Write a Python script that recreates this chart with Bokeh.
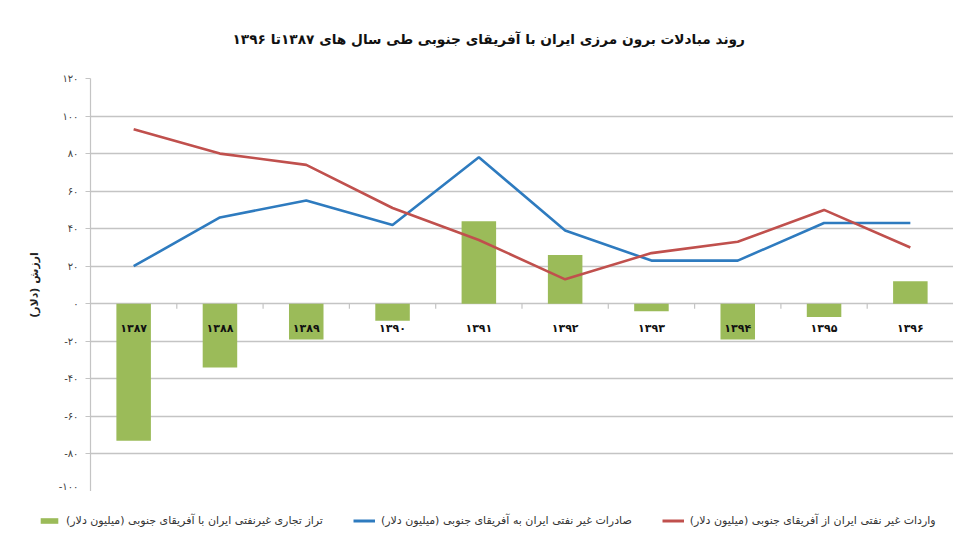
from bokeh.plotting import figure
from bokeh.models import FixedTicker, Legend, LegendItem, ColumnDataSource
from bokeh.layouts import column, row
from bokeh.core.properties import value
from bokeh.embed import file_html
from bokeh.resources import INLINE

# ---- data ----
years = ["۱۳۸۷", "۱۳۸۸", "۱۳۸۹", "۱۳۹۰", "۱۳۹۱", "۱۳۹۲", "۱۳۹۳", "۱۳۹۴", "۱۳۹۵", "۱۳۹۶"]
balance = [-73, -34, -19, -9, 44, 26, -4, -19, -7, 12]
exports = [20, 46, 55, 42, 78, 39, 23, 23, 43, 43]
imports = [93, 80, 74, 51, 34, 13, 27, 33, 50, 30]
y_ticks = [-100, -80, -60, -40, -20, 0, 20, 40, 60, 80, 100, 120]
y_tick_labels = ["-۱۰۰", "-۸۰", "-۶۰", "-۴۰", "-۲۰", "۰", "۲۰", "۴۰", "۶۰", "۸۰", "۱۰۰", "۱۲۰"]

title_text = "روند مبادلات برون مرزی ایران با آفریقای جنوبی طی سال های ۱۳۸۷تا ۱۳۹۶\u200f"
y_label = "ارزش (دلار)\u200f"
name_balance = "تراز تجاری غیرنفتی ایران با آفریقای جنوبی (میلیون دلار)\u200f"
name_exports = "صادرات غیر نفتی ایران به آفریقای جنوبی (میلیون دلار)\u200f"
name_imports = "واردات غیر نفتی ایران از آفریقای جنوبی (میلیون دلار)\u200f"

FONT = "DejaVu Sans"
GREEN = "#9bbb59"
BLUE = "#2e7bbf"
RED = "#c0504d"
GRID = "#c4c4c4"

W = 953
idx = list(range(len(years)))
src = ColumnDataSource(dict(x=idx, balance=balance, exports=exports, imports=imports, year=years))

p = figure(width=W, height=491, output_backend="svg", toolbar_location=None,
           x_range=(-0.5, len(years) - 0.5), y_range=(-100, 120),
           x_axis_location=None,
           min_border_left=90, min_border_right=0, min_border_top=0, min_border_bottom=0)

p.title.text = title_text
p.title.text_font = FONT
p.title.text_font_size = "13.7px"
p.title.text_font_style = "bold"
p.title.align = "left"
p.title.offset = 142
p.title.vertical_align = "top"
p.title.standoff = 60
p.title.text_color = "#111111"

p.outline_line_color = None
p.background_fill_color = "white"

# bars and lines
r_bar = p.vbar(x="x", top="balance", bottom=0, width=0.4, source=src,
               fill_color=GREEN, line_color=None)
r_exp = p.line(x="x", y="exports", source=src, line_color=BLUE, line_width=2.6)
r_imp = p.line(x="x", y="imports", source=src, line_color=RED, line_width=2.6)

# category tick marks on the zero line (between categories)
bx = [i + 0.5 for i in idx[:-1]]
tick_len = 5 * 220 / 419
p.segment(x0=bx, y0=[0] * len(bx), x1=bx, y1=[-tick_len] * len(bx),
          line_color=GRID, line_width=1.2)

# category labels just below the zero line
p.text(x="x", y=0, text="year", source=src, y_offset=25,
       text_align="center", text_baseline="middle",
       text_font=value(FONT), text_font_size="11px", text_font_style="bold",
       text_color="#111111")

# y axis
p.yaxis.ticker = FixedTicker(ticks=y_ticks)
p.yaxis.major_label_overrides = {t: l for t, l in zip(y_ticks, y_tick_labels)}
p.yaxis.major_label_text_font = FONT
p.yaxis.major_label_text_font_size = "10px"
p.yaxis.major_label_text_color = "#404040"
p.yaxis.major_label_standoff = 7
p.yaxis.axis_line_color = GRID
p.yaxis.axis_line_width = 1.2
p.yaxis.major_tick_line_color = GRID
p.yaxis.major_tick_out = 5
p.yaxis.major_tick_in = 0
p.yaxis.minor_tick_line_color = None
p.yaxis.axis_label = y_label
p.yaxis.axis_label_text_font = FONT
p.yaxis.axis_label_text_font_size = "11px"
p.yaxis.axis_label_text_font_style = "bold"
p.yaxis.axis_label_text_color = "#222222"
p.yaxis.axis_label_standoff = 15

p.xgrid.grid_line_color = None
p.ygrid.grid_line_color = GRID
p.ygrid.grid_line_width = 1.5

# ---- legend strip below the chart ----
lf = figure(width=W, height=46, output_backend="svg", toolbar_location=None,
            x_range=(0, 1), y_range=(0, 1), x_axis_location=None, y_axis_location=None,
            min_border_left=0, min_border_right=0, min_border_top=0, min_border_bottom=0)
lf.outline_line_color = None
lf.xgrid.visible = False
lf.ygrid.visible = False
# swatch renderers: their points sit outside the strip's visible range
off = ColumnDataSource(dict(x=[5, 6], y=[5, 5], top=[5, 5]))
l_bar = lf.vbar(x="x", top="top", width=0.1, source=off, fill_color=GREEN, line_color=None)
l_exp = lf.line(x="x", y="y", source=off, line_color=BLUE, line_width=3)
l_imp = lf.line(x="x", y="y", source=off, line_color=RED, line_width=3)

legend = Legend(items=[
    LegendItem(label=name_balance, renderers=[l_bar]),
    LegendItem(label=name_exports, renderers=[l_exp]),
    LegendItem(label=name_imports, renderers=[l_imp]),
], orientation="horizontal", location=(38, 10))
legend.label_text_font = FONT
legend.label_text_font_size = "11px"
legend.label_text_color = "#333333"
legend.glyph_width = 22
legend.glyph_height = 7
legend.label_standoff = 6
legend.spacing = 30
legend.border_line_color = None
legend.background_fill_alpha = 0
legend.padding = 2
legend.margin = 0
lf.add_layout(legend)

layout = column(p, row(lf, spacing=0), spacing=0)
open("out.html", "w").write(file_html(layout, INLINE))
